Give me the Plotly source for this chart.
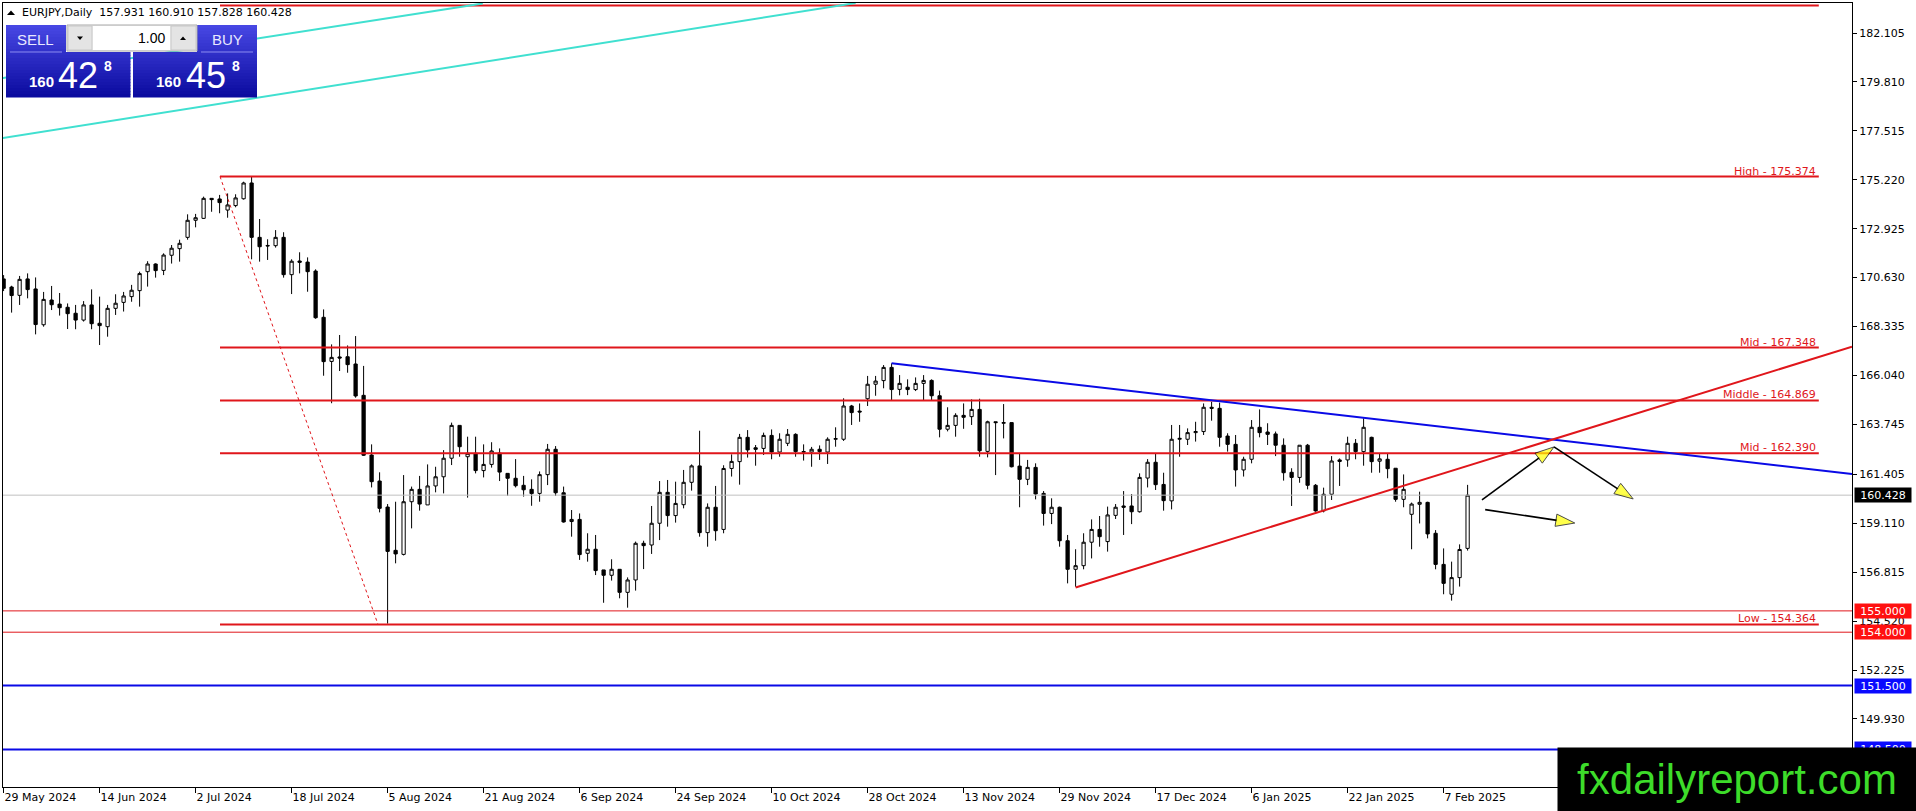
import plotly.graph_objects as go

# ---------------- data ----------------
tick_labels = ["29 May 2024", "14 Jun 2024", "2 Jul 2024", "18 Jul 2024", "5 Aug 2024",
               "21 Aug 2024", "6 Sep 2024", "24 Sep 2024", "10 Oct 2024", "28 Oct 2024",
               "13 Nov 2024", "29 Nov 2024", "17 Dec 2024", "6 Jan 2025", "22 Jan 2025",
               "7 Feb 2025"]
bars_per_label = 12

price_ticks = [182.105, 179.810, 177.515, 175.220, 172.925, 170.630, 168.335, 166.040,
               163.745, 161.405, 159.110, 156.815, 154.520, 152.225, 149.930]

opens = [170.57, 170.19, 169.80, 170.57, 170.10, 168.42, 169.58, 169.39, 169.24, 168.96,
         168.64, 169.35, 168.49, 168.33, 169.19, 169.47, 169.74, 170.02, 170.91, 171.27,
         170.97, 171.68, 171.99, 172.52, 173.32, 173.41, 174.35, 174.32, 173.80, 174.01,
         174.33, 175.07, 172.52, 172.14, 172.13, 172.52, 170.77, 171.41, 171.36, 170.94,
         168.77, 166.70, 166.91, 166.92, 166.58, 165.11, 162.31, 161.09, 159.87, 157.84,
         157.65, 160.12, 160.70, 159.97, 160.86, 161.29, 162.16, 163.70, 162.23, 162.39,
         161.58, 161.87, 162.40, 161.45, 161.22, 160.89, 160.70, 160.51, 161.39, 162.58,
         160.54, 159.19, 159.29, 157.70, 157.89, 156.92, 156.67, 156.95, 155.87, 156.45,
         158.17, 158.09, 159.11, 160.56, 159.47, 159.98, 161.03, 161.80, 158.67, 159.86,
         158.82, 161.68, 162.00, 163.14, 162.65, 162.62, 163.23, 162.45, 162.86, 163.28,
         162.47, 162.45, 162.58, 162.45, 163.05, 163.05, 164.61, 164.37, 164.95, 165.63,
         165.80, 166.42, 165.39, 165.49, 165.38, 165.67, 165.81, 165.09, 163.52, 163.70,
         164.17, 164.11, 164.45, 162.48, 163.87, 163.80, 163.83, 161.79, 161.17, 161.73,
         160.51, 159.57, 159.86, 158.29, 156.95, 157.12, 158.22, 158.82, 158.25, 159.48,
         159.92, 159.92, 159.65, 161.23, 161.97, 160.93, 160.16, 163.05, 163.05, 163.36,
         163.41, 164.55, 164.50, 163.20, 162.81, 161.61, 162.11, 163.61, 163.39, 163.30,
         162.77, 161.50, 161.26, 162.77, 160.89, 159.69, 160.47, 162.08, 162.08, 162.86,
         162.47, 163.14, 162.02, 162.11, 161.69, 160.23, 159.53, 160.00, 160.09, 158.64,
         157.18, 155.78, 156.56, 157.931]
highs = [170.75, 170.25, 170.71, 170.83, 170.64, 169.96, 170.24, 169.91, 169.42, 169.35,
         169.53, 170.08, 169.74, 169.35, 169.85, 169.96, 170.29, 170.91, 171.40, 171.30,
         171.77, 172.16, 172.41, 173.60, 173.62, 174.43, 174.35, 174.51, 174.58, 174.54,
         175.13, 175.374, 173.38, 172.43, 172.86, 172.76, 171.49, 171.82, 171.58, 171.02,
         169.14, 167.50, 167.94, 167.45, 167.89, 166.49, 162.81, 161.50, 160.01, 160.12,
         161.37, 160.83, 161.33, 161.87, 161.76, 162.54, 163.83, 163.70, 163.17, 163.17,
         162.81, 162.91, 162.62, 161.45, 162.12, 161.33, 161.17, 161.54, 162.83, 162.73,
         160.83, 159.73, 159.57, 158.64, 158.56, 156.92, 157.42, 156.95, 156.57, 158.25,
         158.29, 159.92, 161.09, 161.14, 161.06, 161.61, 161.87, 163.45, 160.04, 160.86,
         161.83, 162.34, 163.30, 163.48, 162.78, 163.36, 163.51, 163.33, 163.53, 163.33,
         162.81, 162.69, 162.76, 163.14, 163.61, 164.97, 164.66, 164.73, 166.02, 166.02,
         166.53, 166.61, 166.06, 165.86, 165.95, 166.06, 165.86, 165.33, 164.55, 164.27,
         164.73, 164.92, 164.95, 163.92, 163.87, 164.70, 163.83, 162.36, 162.08, 161.92,
         160.62, 160.28, 159.89, 158.56, 157.89, 158.64, 159.29, 159.45, 159.89, 160.01,
         160.62, 160.48, 161.45, 162.12, 162.36, 161.48, 163.72, 163.72, 163.56, 163.87,
         164.73, 164.81, 164.77, 163.33, 163.25, 162.23, 163.95, 164.45, 163.80, 163.41,
         163.09, 161.69, 162.77, 162.83, 160.95, 160.78, 162.26, 162.15, 163.17, 163.06,
         164.03, 163.17, 162.39, 162.36, 161.69, 161.40, 160.08, 160.59, 160.12, 158.79,
         157.93, 157.31, 158.12, 160.910]
lows = [170.00, 168.99, 169.35, 169.66, 167.97, 168.33, 169.11, 168.85, 168.22, 168.21,
        168.57, 168.21, 167.47, 167.86, 168.88, 169.04, 169.50, 169.27, 170.21, 170.63,
        170.75, 171.29, 171.38, 172.41, 172.99, 173.38, 173.72, 173.65, 173.44, 173.93,
        174.29, 171.49, 171.38, 171.46, 172.04, 170.63, 169.86, 170.83, 169.97, 168.70,
        166.03, 164.74, 166.25, 166.17, 165.00, 162.27, 160.79, 159.62, 154.40, 157.23,
        157.60, 158.87, 159.70, 159.97, 160.56, 160.51, 161.84, 162.23, 160.31, 161.45,
        161.26, 161.72, 161.09, 160.40, 160.79, 160.36, 159.93, 160.12, 160.90, 160.39,
        159.14, 158.48, 157.39, 157.31, 156.68, 155.38, 156.42, 155.59, 155.15, 155.95,
        156.96, 157.67, 158.32, 158.95, 159.14, 159.81, 160.64, 158.48, 158.01, 158.29,
        158.64, 161.30, 160.92, 162.19, 161.81, 162.31, 162.11, 162.23, 162.73, 162.23,
        162.05, 161.76, 162.08, 161.89, 162.70, 162.97, 163.72, 163.87, 164.61, 165.09,
        165.44, 164.89, 165.11, 165.12, 165.31, 164.89, 164.89, 163.14, 163.42, 163.17,
        163.54, 163.72, 162.23, 162.20, 161.37, 163.09, 161.73, 159.86, 160.90, 160.23,
        159.00, 159.07, 158.01, 156.29, 156.13, 156.95, 157.46, 158.01, 157.78, 159.31,
        158.56, 159.07, 159.61, 160.79, 160.67, 159.70, 159.76, 162.23, 162.78, 162.94,
        163.25, 163.92, 162.70, 162.47, 160.83, 161.30, 161.92, 163.14, 162.78, 162.26,
        161.11, 159.92, 161.01, 160.70, 159.65, 159.62, 160.20, 160.86, 161.76, 162.11,
        161.81, 161.48, 161.48, 161.22, 160.12, 159.86, 157.89, 159.10, 158.40, 156.95,
        155.78, 155.48, 156.14, 157.828]
closes = [170.13, 169.79, 170.55, 170.07, 168.43, 169.61, 169.36, 169.22, 168.94, 168.64,
          169.35, 168.47, 168.38, 169.19, 169.43, 169.77, 170.04, 170.82, 171.27, 170.96,
          171.69, 172.01, 172.24, 173.32, 173.44, 174.35, 174.29, 174.15, 174.04, 174.37,
          175.07, 172.52, 172.08, 172.12, 172.52, 170.77, 171.40, 171.35, 170.91, 168.75,
          166.69, 166.89, 166.86, 166.55, 165.08, 162.30, 161.06, 159.81, 157.79, 157.67,
          160.12, 160.70, 160.01, 160.86, 161.29, 162.16, 163.70, 162.70, 162.39, 161.58,
          161.87, 162.50, 161.51, 161.22, 160.87, 160.68, 160.50, 161.39, 162.58, 160.54,
          159.17, 159.29, 157.64, 157.89, 156.89, 156.67, 156.95, 155.87, 156.45, 158.17,
          158.06, 159.11, 160.56, 159.47, 160.04, 161.03, 161.80, 158.67, 159.86, 158.76,
          161.68, 162.01, 163.14, 162.55, 162.58, 163.23, 162.45, 163.05, 163.28, 162.47,
          162.45, 162.58, 162.47, 163.05, 163.08, 164.61, 164.30, 164.33, 165.63, 165.78,
          166.42, 165.38, 165.67, 165.38, 165.67, 165.81, 165.09, 163.52, 163.70, 164.17,
          164.08, 164.45, 162.51, 163.87, 163.83, 163.83, 161.76, 161.17, 161.73, 160.48,
          159.57, 159.86, 158.29, 156.95, 157.12, 158.22, 158.82, 158.48, 159.50, 159.86,
          159.86, 159.65, 161.26, 161.97, 160.92, 160.17, 163.05, 163.09, 163.36, 163.41,
          164.55, 164.50, 163.14, 162.81, 161.61, 162.11, 163.61, 163.36, 163.28, 162.77,
          161.48, 161.26, 162.77, 160.89, 159.69, 160.47, 162.03, 162.01, 162.86, 162.47,
          163.61, 162.00, 162.13, 161.67, 160.23, 160.70, 160.01, 160.09, 158.61, 157.18,
          156.29, 156.56, 157.88, 160.428]

# Fibonacci object: anchor bars and levels
fib_bars = [27.05, 46.8]
fib_end_bar = 226.9
fib_levels = [183.400, 175.374, 167.348, 164.869, 162.390, 154.364]
fib_names = ["", "High - 175.374", "Mid - 167.348", "Middle - 164.869", "Mid - 162.390", "Low - 154.364"]

bid_price = 160.428
red_levels = [155.000, 154.000]
blue_levels = [151.500, 148.500]

# trend lines (bar index, price)
blue_trend_x = [111.0, 231.05]
blue_trend_y = [166.61, 161.42]
red_trend_x = [134.0, 231.05]
red_trend_y = [156.10, 167.39]
cyan1_x = [-0.1, 106.5]
cyan1_y = [177.18, 183.51]
cyan2_x = [-0.1, 59.9]
cyan2_y = [179.99, 183.49]

# projection arrows (bar index, price)
arrows = [
    ([184.8, 193.8], [160.21, 162.69]),
    ([193.8, 203.7], [162.69, 160.25]),
    ([185.2, 196.4], [159.75, 159.12]),
]

# ---------------- layout geometry ----------------
W, H = 1916, 811
ML, MR, MT, MB = 3, 64, 3, 24
PW, PH = W - ML - MR, H - MT - MB
X_RANGE = [-0.075, 231.05]
Y_RANGE = [146.739, 183.512]
RED = "#e0161b"
BLUE = "#0a0ae6"
FONT = "DejaVu Sans"


def px(x):
    return (x - ML) / PW


def py(y):
    return (H - MB - y) / PH


fig = go.Figure()
n = len(opens)
xs = list(range(n))

# bid line (below candles)
fig.add_trace(go.Scatter(x=[-1, 240], y=[bid_price, bid_price], mode="lines",
                         line=dict(color="#c0c0c0", width=1), hoverinfo="skip"))

fig.add_trace(go.Candlestick(
    x=xs, open=opens, high=highs, low=lows, close=closes,
    increasing=dict(fillcolor="white", line=dict(color="black", width=1)),
    decreasing=dict(fillcolor="black", line=dict(color="black", width=1)),
    whiskerwidth=0, hoverinfo="skip"))

# thin red / blue horizontal levels
for lv in red_levels:
    fig.add_trace(go.Scatter(x=[-1, 240], y=[lv, lv], mode="lines",
                             line=dict(color=RED, width=1), hoverinfo="skip"))
for lv in blue_levels:
    fig.add_trace(go.Scatter(x=[-1, 240], y=[lv, lv], mode="lines",
                             line=dict(color=BLUE, width=2), hoverinfo="skip"))

# fibonacci levels
for lv in fib_levels:
    fig.add_trace(go.Scatter(x=[fib_bars[0], fib_end_bar], y=[lv, lv], mode="lines",
                             line=dict(color=RED, width=2), hoverinfo="skip"))
fig.add_trace(go.Scatter(x=fib_bars, y=[fib_levels[1], fib_levels[-1]], mode="lines",
                         line=dict(color=RED, width=1, dash="dot"), hoverinfo="skip"))

# trend lines
fig.add_trace(go.Scatter(x=blue_trend_x, y=blue_trend_y, mode="lines",
                         line=dict(color=BLUE, width=2), hoverinfo="skip"))
fig.add_trace(go.Scatter(x=red_trend_x, y=red_trend_y, mode="lines",
                         line=dict(color=RED, width=2), hoverinfo="skip"))
for cx, cy in [(cyan1_x, cyan1_y), (cyan2_x, cyan2_y)]:
    fig.add_trace(go.Scatter(x=cx, y=cy, mode="lines",
                             line=dict(color="#40e0d0", width=2), hoverinfo="skip"))

# arrows
for ax_, ay_ in arrows:
    fig.add_trace(go.Scatter(
        x=ax_, y=ay_, mode="lines+markers",
        line=dict(color="black", width=1.6),
        marker=dict(symbol=["circle", "arrow"], size=[0, 20], color="#ffff00",
                    line=dict(color="black", width=1), angleref="previous"),
        hoverinfo="skip"))

shapes = []
annotations = []


def rect(x0, y0, x1, y1, fill, line=None, lw=0):
    shapes.append(dict(type="rect", xref="paper", yref="paper", layer="above",
                       x0=px(x0), x1=px(x1), y0=py(y1), y1=py(y0), fillcolor=fill,
                       line=dict(color=line or fill, width=lw)))


def grad_rect(x0, y0, x1, y1, top=(72, 72, 228), bot=(10, 10, 158), ya=25, yb=97):
    steps = max(1, int(round((y1 - y0) / 3)))
    h = (y1 - y0) / steps
    for k in range(steps):
        yy0 = y0 + k * h
        t = ((yy0 + h / 2) - ya) / (yb - ya)
        c = tuple(int(round(top[j] + (bot[j] - top[j]) * t)) for j in range(3))
        rect(x0, yy0, x1, yy0 + h + 0.4, "rgb(%d,%d,%d)" % c)


def txt(x, y, s, size, color, family=FONT, xanchor="left", yanchor="middle"):
    annotations.append(dict(xref="paper", yref="paper", x=px(x), y=py(y), text=s,
                            showarrow=False, xanchor=xanchor, yanchor=yanchor,
                            font=dict(size=size, color=color, family=family),
                            borderpad=0))


def tri(points, color="black"):
    path = "M " + " L ".join("%f,%f" % (px(a), py(b)) for a, b in points) + " Z"
    shapes.append(dict(type="path", xref="paper", yref="paper", layer="above",
                       path=path, fillcolor=color, line=dict(color=color, width=0)))


# one-click trading panel
grad_rect(6, 25, 66, 52)
grad_rect(6, 52, 130.5, 97)
grad_rect(197, 25, 257, 52)
grad_rect(133, 52, 257, 97)
shapes.append(dict(type="line", xref="paper", yref="paper", layer="above",
                   x0=px(10), x1=px(62), y0=py(52), y1=py(52), line=dict(color="#8c8cf0", width=1)))
shapes.append(dict(type="line", xref="paper", yref="paper", layer="above",
                   x0=px(201), x1=px(253), y0=py(52), y1=py(52), line=dict(color="#8c8cf0", width=1)))
rect(67, 25, 197, 51, "#f0f0f0", "#a8a8a8", 1)
rect(68, 26, 92, 50, "#e4e4e4", "#c8c8c8", 1)
rect(93, 26, 170, 50, "white", "white", 0)
rect(171, 26, 196, 50, "#e4e4e4", "#c8c8c8", 1)
tri([(77, 36.5), (83, 36.5), (80, 40)])
tri([(180, 40), (186, 40), (183, 36.5)])
tri([(7, 15), (15, 15), (11, 10.5)])

txt(21, 13, "EURJPY,Daily\u00a0\u00a0157.931 160.910 157.828 160.428", 11, "black")
txt(35, 39, "SELL", 15, "#e8e8ff", "Liberation Sans", xanchor="center")
txt(227, 39, "BUY", 15, "#e8e8ff", "Liberation Sans", xanchor="center")
txt(166, 38, "1.00", 14, "black", "Liberation Sans", xanchor="right")
txt(55, 82, "<b>160</b>", 15, "white", "Liberation Sans", xanchor="right")
txt(57, 75, "42", 36, "white", "Liberation Sans")
txt(107.5, 66, "<b>8</b>", 14, "white", "Liberation Sans", xanchor="center")
txt(182, 82, "<b>160</b>", 15, "white", "Liberation Sans", xanchor="right")
txt(185, 75, "45", 36, "white", "Liberation Sans")
txt(236, 66, "<b>8</b>", 14, "white", "Liberation Sans", xanchor="center")

# fib labels
for lv, name in zip(fib_levels, fib_names):
    if name:
        annotations.append(dict(x=fib_end_bar - 0.2, y=lv, xref="x", yref="y", text=name,
                                showarrow=False, xanchor="right", yanchor="bottom",
                                yshift=-2, borderpad=0,
                                font=dict(size=11, color=RED, family=FONT)))


def axis_box(level, bg):
    annotations.append(dict(xref="paper", yref="y", x=px(1854), y=level,
                            xanchor="left", yanchor="middle", text="%.3f" % level,
                            showarrow=False, bgcolor=bg, width=54, height=12,
                            borderpad=1, font=dict(size=11, color="white", family=FONT)))


axis_box(bid_price, "black")
for lv in red_levels:
    axis_box(lv, "#ff1010")
for lv in blue_levels:
    axis_box(lv, "#0a0aff")

# watermark
annotations.append(dict(xref="paper", yref="paper", x=px(1737), y=py(779.5),
                        xanchor="center", yanchor="middle", text="fxdailyreport.com",
                        showarrow=False, bgcolor="black", width=356, height=61,
                        borderpad=1,
                        font=dict(size=42, color="#3ddc2a", family="Liberation Sans")))

fig.update_layout(
    width=W, height=H,
    margin=dict(l=ML, r=MR, t=MT, b=MB),
    paper_bgcolor="white", plot_bgcolor="white",
    showlegend=False, boxgap=0.42,
    font=dict(family=FONT, size=11, color="black"),
    shapes=shapes, annotations=annotations,
    xaxis=dict(range=X_RANGE, showgrid=False, zeroline=False, rangeslider=dict(visible=False),
               tickvals=[bars_per_label * k for k in range(len(tick_labels))],
               ticktext=tick_labels, ticks="outside", ticklen=5, tickcolor="black",
               ticklabelposition="outside right",
               showline=True, linecolor="black", linewidth=1, mirror=True,
               tickfont=dict(size=11, family=FONT, color="black")),
    yaxis=dict(range=Y_RANGE, side="right", showgrid=False, zeroline=False,
               tickvals=price_ticks, ticktext=["%.3f" % v for v in price_ticks],
               ticks="outside", ticklen=4, tickcolor="black",
               showline=True, linecolor="black", linewidth=1, mirror=True,
               tickfont=dict(size=11, family=FONT, color="black")),
)

fig.write_html("out.html", config={"displayModeBar": False},
               post_script="document.body.style.margin='0px';document.body.style.overflow='hidden';")
